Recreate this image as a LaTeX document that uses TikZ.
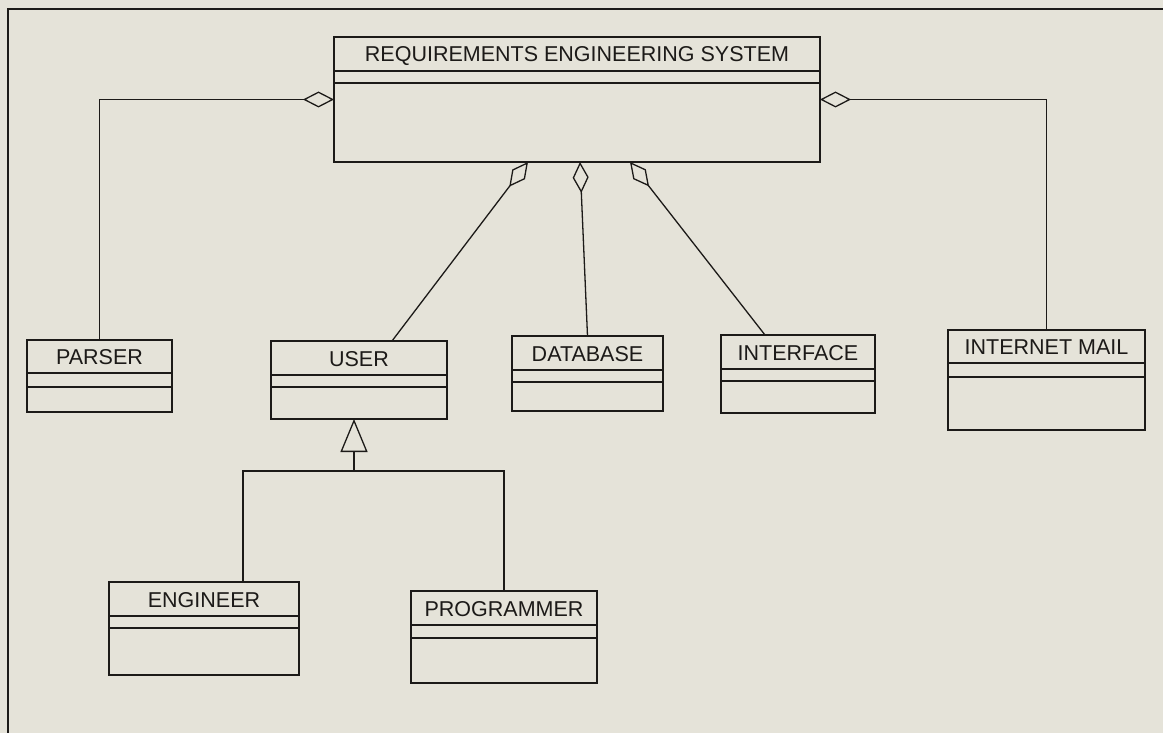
\documentclass[tikz,border=0pt]{standalone}
\usepackage{fontspec}
\setmainfont{Liberation Sans}
\usetikzlibrary{arrows.meta}
\definecolor{bg}{RGB}{229,227,217}
\definecolor{ink}{RGB}{28,26,24}
\tikzset{
  clsbox/.style={draw=ink, line width=1.6pt, inner sep=0pt, outer sep=0pt},
  clstext/.style={inner sep=0pt, text height=16pt, text depth=0pt, text=ink, font=\fontsize{21.5}{24}\selectfont},
  sepline/.style={draw=ink, line width=1.6pt},
  conn/.style={draw=ink, line width=1.3pt},
  agg/.style={conn, -{Diamond[open, length=31pt, width=16pt, line width=1.3pt]}},
  gen/.style={conn, -{Triangle[open, length=33pt, width=27pt, line width=1.3pt]}},
  frameline/.style={draw=ink, line width=2pt}
}
\newcommand{\umlcls}[8]{%
  \node[clsbox, minimum width={#4-#2}, minimum height={#5-#3}] (#1) at ({(#2+#4)/2},{(#3+#5)/2}) {};
  \node[clstext] (#1-t) at ({(#2+#4)/2},{(#3+#6)/2}) {#8};
  \draw[sepline] (#2,#6) -- (#4,#6) (#2,#7) -- (#4,#7);
}
\begin{document}
\begin{tikzpicture}[x=1pt, y=-1pt]
\useasboundingbox (0,0) rectangle (1163,733);
\fill[bg] (0,0) rectangle (1163,733);
\draw[frameline] (8,733) -- (8,9) -- (1163,9);

\umlcls{res}{334}{37}{820}{162}{71}{83}{REQUIREMENTS ENGINEERING SYSTEM}
\umlcls{parser}{27}{340}{172}{412}{373}{387}{PARSER}
\umlcls{user}{271}{341}{447}{419}{375}{387}{USER}
\umlcls{db}{512}{336}{663}{411}{370}{382}{DATABASE}
\umlcls{ui}{721}{335}{875}{413}{369}{381}{INTERFACE}
\umlcls{mail}{948}{330}{1145}{430}{363}{377}{INTERNET MAIL}
\umlcls{eng}{109}{582}{299}{675}{616}{628}{ENGINEER}
\umlcls{prog}{411}{591}{597}{683}{625}{638}{PROGRAMMER}

% aggregations
\draw[agg] (parser.north) |- (res.west);
\draw[agg] (mail.north) |- (res.east);
\draw[agg] ([xshift=33pt]user.north) -- ([xshift=-49pt]res.south);
\draw[agg] (db.north) -- ([xshift=3pt]res.south);
\draw[agg] ([xshift=-33pt]ui.north) -- ([xshift=53pt]res.south);

% generalization
\coordinate (join) at (354,471);
\draw[conn] ([xshift=39pt]eng.north) |- (join);
\draw[conn] (prog.north) |- (join);
\draw[gen] (join) -- (join |- user.south);
\end{tikzpicture}
\end{document}
